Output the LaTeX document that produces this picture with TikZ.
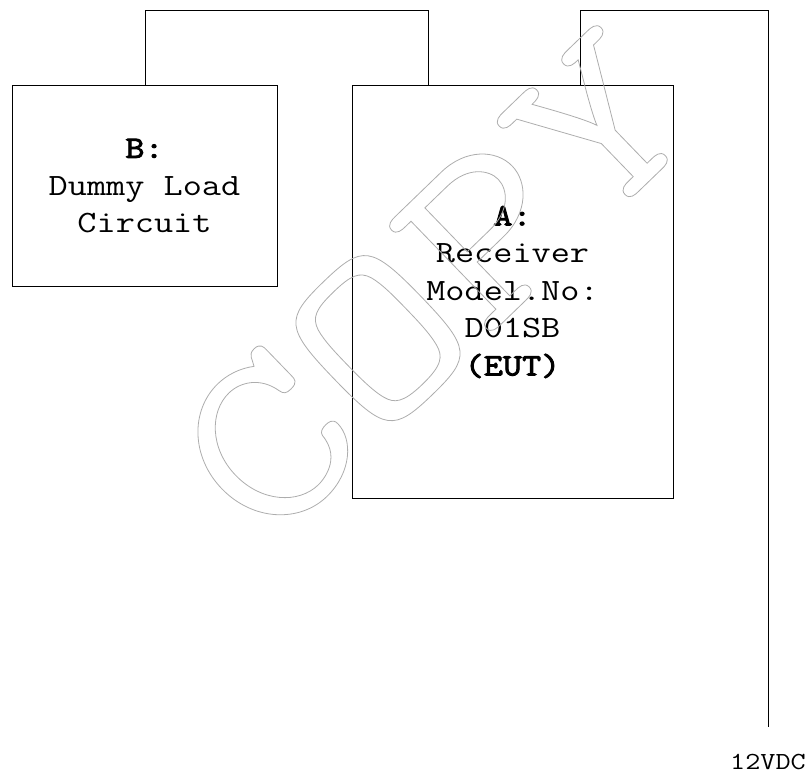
\documentclass[tikz,border=0pt]{standalone}
\usepackage{fontspec}
\newfontfamily\courf[FakeStretch=1.2, BoldFont={Latin Modern Mono}, BoldFeatures={FakeBold=3}]{Latin Modern Mono}
\newcommand{\outlinetext}[1]{\special{pdf:literal direct 1 Tr 0.8 w 0.68 G}#1\special{pdf:literal direct 0 Tr 0 G}}
\begin{document}
\begin{tikzpicture}[x=1pt,y=-1pt,
  box/.style={draw, line width=1pt, inner sep=0pt, align=center,
    font=\courf\fontsize{31}{37.5}\selectfont},
  wire/.style={line width=1pt},
  lbl/.style={font=\courf\fontsize{24.5}{28}\selectfont, inner sep=0pt},
  wmark/.style={rotate=44, inner sep=0pt, font=\courf\fontsize{247}{250}\selectfont}]
\useasboundingbox (0,0) rectangle (812,776);
\node[box, minimum width=265pt, minimum height=200pt] (B) at (144.5,186)
  {\textbf{B:}\\Dummy Load\\Circuit};
\node[box, minimum width=321pt, minimum height=412pt] (A) at (512.5,292)
  {\textbf{A:}\\Receiver\\Model.No:\\D01SB\\\textbf{(EUT)}};
\coordinate (t1) at (145,11);
\coordinate (t2) at (428,11);
\coordinate (t3) at (580,11);
\coordinate (t4) at (768,11);
\coordinate (pend) at (768,727);
\draw[wire] (B.north -| t1) -- (t1) -- (t2) -- (A.north -| t2);
\draw[wire] (A.north -| t3) -- (t3) -- (t4) -- (pend);
\node[lbl] (v) at (768,762) {12VDC};
\node[wmark] (wm) at (433,285) {\outlinetext{COPY}};
\end{tikzpicture}
\end{document}
